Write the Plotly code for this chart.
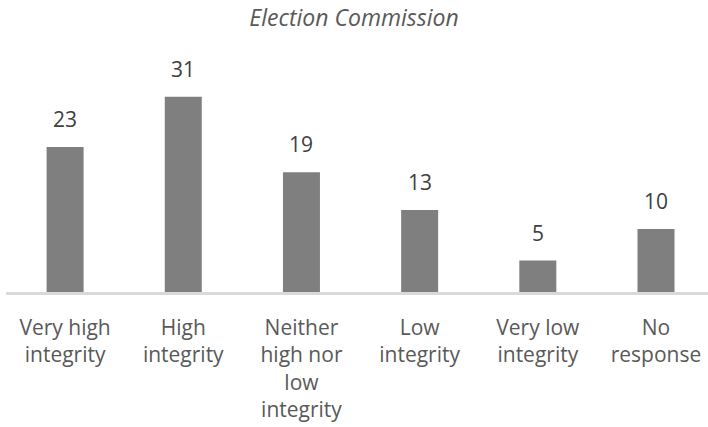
import plotly.graph_objects as go

categories = ["Very high<br>integrity", "High<br>integrity", "Neither<br>high nor<br>low<br>integrity",
              "Low<br>integrity", "Very low<br>integrity", "No<br>response"]
values = [23, 31, 19, 13, 5, 10]

fig = go.Figure(go.Bar(
    x=categories, y=values,
    marker=dict(color="#7f7f7f", line=dict(width=0)),
    width=0.313,
))

# value labels sit well above each bar, like the Excel original
for c, v in zip(categories, values):
    fig.add_annotation(x=c, y=v, text=str(v), showarrow=False, yanchor="bottom", yshift=12,
                       font=dict(family="Open Sans", size=21, color="#404040"))

fig.update_layout(
    width=708, height=427,
    margin=dict(l=6, r=0, t=60, b=135, autoexpand=False),
    paper_bgcolor="white", plot_bgcolor="white",
    showlegend=False,
    title=dict(text="<i>Election Commission</i>", x=0.5, xanchor="center", y=0.957, yanchor="middle",
               font=dict(family="Open Sans", size=23, color="#595959")),
    font=dict(family="Open Sans", color="#595959"),
)
fig.update_xaxes(range=[-0.5, 5.44], showline=True, linecolor="#d9d9d9", linewidth=2.5,
                 ticks="outside", ticklen=15, tickcolor="rgba(0,0,0,0)", automargin=False,
                 tickfont=dict(family="Open Sans", size=21, color="#595959"), showgrid=False)
fig.update_yaxes(range=[0, 36.83], visible=False, showgrid=False, automargin=False)

fig.write_html("out.html", config={"displayModeBar": False},
               post_script="document.body.style.margin='0';")
